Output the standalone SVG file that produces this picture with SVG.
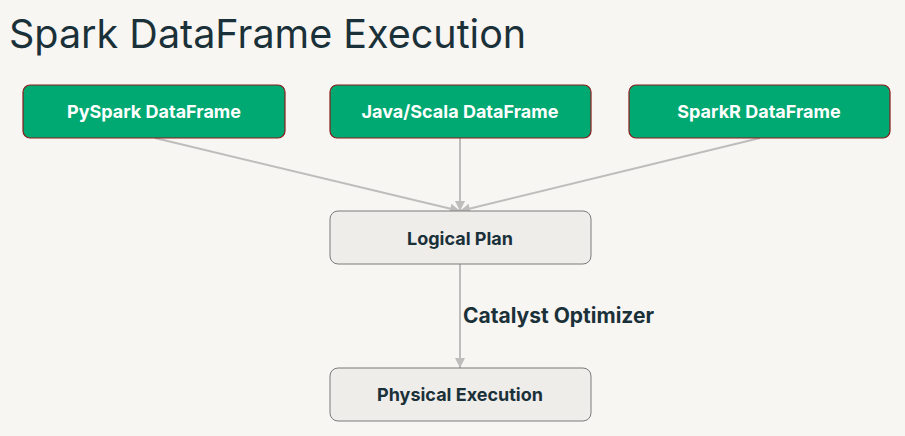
<svg xmlns="http://www.w3.org/2000/svg" width="905" height="436" viewBox="0 0 905 436">
<defs>
<style>
.title{font-family:Inter,"Open Sans","Liberation Sans",sans-serif;font-size:39.5px;fill:#1b3139;}
.src rect{fill:#00a972;stroke:#8b1a1a;stroke-width:1.2;}
.src text{font-family:Inter,"Open Sans","Liberation Sans",sans-serif;font-weight:700;font-size:18px;fill:#ffffff;text-anchor:middle;}
.stage rect{fill:#eeedea;stroke:#7a7a7a;stroke-width:1;}
.stage text{font-family:Inter,"Open Sans","Liberation Sans",sans-serif;font-weight:700;font-size:18px;fill:#1b3139;text-anchor:middle;}
.conn line{stroke:#bdbdbb;stroke-width:2;fill:none;}
.lbl{font-family:Inter,"Open Sans","Liberation Sans",sans-serif;font-weight:700;font-size:21px;fill:#1b3139;}
</style>
<marker id="ah" viewBox="0 0 10 10" refX="10" refY="5" markerWidth="5.5" markerHeight="5" orient="auto" markerUnits="strokeWidth">
<path d="M0,0 L10,5 L0,10 z" fill="#bdbdbb"/>
</marker>
</defs>
<rect x="0" y="0" width="905" height="436" fill="#f8f6f3"/>
<text class="title" x="9" y="48">Spark DataFrame Execution</text>
<g id="connectors" class="conn">
<line x1="155" y1="138" x2="460" y2="211" marker-end="url(#ah)"/>
<line x1="460" y1="138" x2="460" y2="211" marker-end="url(#ah)"/>
<line x1="760" y1="138" x2="460" y2="211" marker-end="url(#ah)"/>
<line x1="460" y1="264" x2="460" y2="368" marker-end="url(#ah)"/>
<text class="lbl" x="463" y="323">Catalyst Optimizer</text>
</g>
<g id="pyspark" class="src">
<rect x="23" y="85" width="262" height="53" rx="7"/>
<text x="154" y="118">PySpark DataFrame</text>
</g>
<g id="javascala" class="src">
<rect x="330" y="85" width="261" height="53" rx="7"/>
<text x="460" y="118">Java/Scala DataFrame</text>
</g>
<g id="sparkr" class="src">
<rect x="629" y="85" width="261" height="53" rx="7"/>
<text x="759" y="118">SparkR DataFrame</text>
</g>
<g id="logical" class="stage">
<rect x="330" y="211" width="261" height="53" rx="8"/>
<text x="460" y="245">Logical Plan</text>
</g>
<g id="physical" class="stage">
<rect x="330" y="368" width="261" height="53" rx="8"/>
<text x="460" y="401">Physical Execution</text>
</g>
</svg>
